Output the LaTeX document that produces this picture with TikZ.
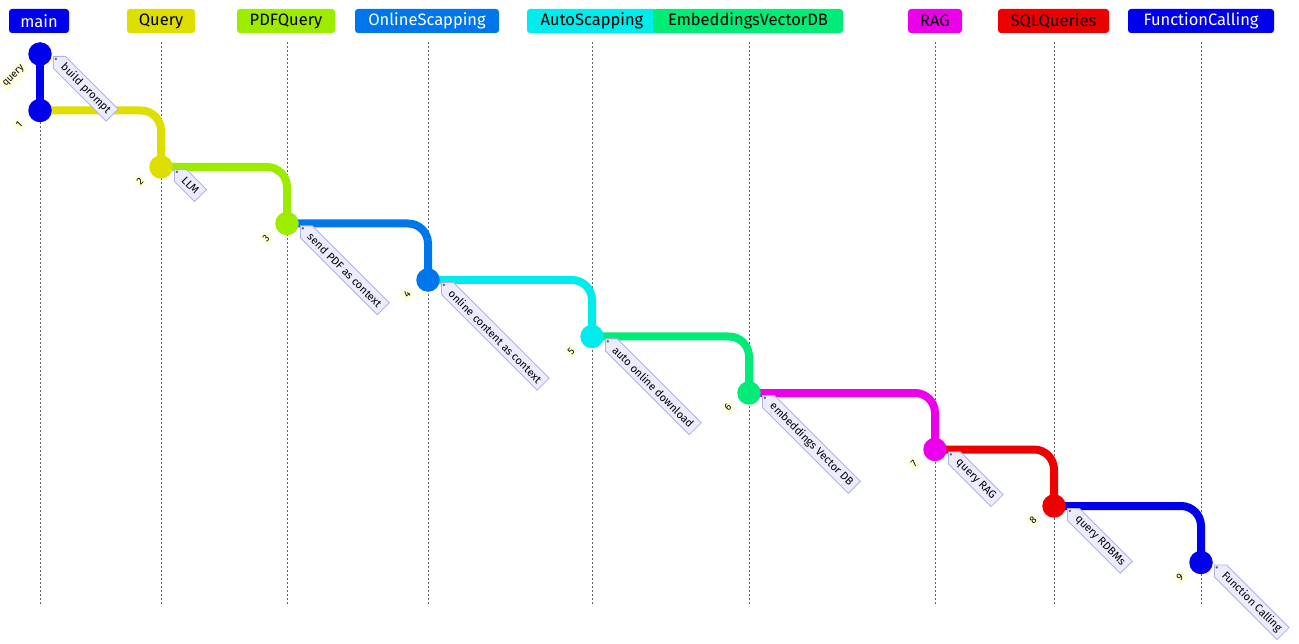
\documentclass[tikz,border=0pt]{standalone}
\usepackage{fontspec}
\setmainfont{Fira Sans}
\usetikzlibrary{shapes.symbols,calc,backgrounds}
\definecolor{g0}{RGB}{0,0,236}
\definecolor{g1}{RGB}{222,222,0}
\definecolor{g2}{RGB}{157,236,0}
\definecolor{g3}{RGB}{0,118,236}
\definecolor{g4}{RGB}{0,236,236}
\definecolor{g5}{RGB}{0,236,118}
\definecolor{g6}{RGB}{236,0,236}
\definecolor{g7}{RGB}{236,0,0}
\definecolor{idbg}{RGB}{255,255,222}
\definecolor{tagbg}{RGB}{236,236,255}
\definecolor{tagln}{RGB}{176,176,236}
\definecolor{lanec}{RGB}{100,100,100}
\begin{document}
\begin{tikzpicture}[x=1pt,y=1pt,
  lane/.style={draw=lanec, line width=1pt, dash pattern=on 2pt off 2pt},
  bline/.style={line width=8pt, rounded corners=20pt},
  commit/.style={circle, minimum size=23.5pt, inner sep=0pt},
  blabel/.style={rounded corners=3pt, minimum height=24pt, inner sep=0pt, font=\fontsize{16.5}{16.5}\selectfont},
  idlab/.style={fill=idbg, inner sep=2.5pt, font=\fontsize{10}{10}\selectfont, rotate=45},
  tagb/.style={signal, signal to=west, signal pointer angle=90, fill=tagbg, draw=tagln, line width=0.8pt, minimum height=17pt, inner xsep=4.5pt, inner ysep=0pt, font=\fontsize{11}{11}\selectfont, rotate=-45, anchor=west},
  hole/.style={fill=lanec}
]
\useasboundingbox (0,0) rectangle (1299,-644);
% branch labels
\node[blabel, fill=g0, text=white, minimum width=60pt] (bmain) at (39,-21) {main};
\node[blabel, fill=g1, text=black, minimum width=68pt] (bq) at (161,-21) {Query};
\node[blabel, fill=g2, text=black, minimum width=98pt] (bpdf) at (286,-21) {PDFQuery};
\node[blabel, fill=g3, text=white, minimum width=144pt] (bon) at (427,-21) {OnlineScapping};
\node[blabel, fill=g4, text=black, minimum width=130pt] (bauto) at (592,-21) {AutoScapping};
\node[blabel, fill=g5, text=black, minimum width=190pt] (bemb) at (748,-21) {EmbeddingsVectorDB};
\node[blabel, fill=g6, text=black, minimum width=54pt] (brag) at (935,-21) {RAG};
\node[blabel, fill=g7, text=black, minimum width=111pt] (bsql) at (1053.5,-21) {SQLQueries};
\node[blabel, fill=g0, text=white, minimum width=146pt] (bfc) at (1201,-21) {FunctionCalling};
% commits
\node[commit, fill=g0] (c0) at (40,-54) {};
\node[commit, fill=g0] (c1) at (40,-110.5) {};
\node[commit, fill=g1] (c2) at (161,-167) {};
\node[commit, fill=g2] (c3) at (287,-223.5) {};
\node[commit, fill=g3] (c4) at (428,-280) {};
\node[commit, fill=g4] (c5) at (592,-336.5) {};
\node[commit, fill=g5] (c6) at (749,-393) {};
\node[commit, fill=g6] (c7) at (935,-449.5) {};
\node[commit, fill=g7] (c8) at (1054,-506) {};
\node[commit, fill=g0] (c9) at (1201,-562.5) {};
% lanes and branch lines
\begin{scope}[on background layer]
\foreach \x/\n in {40/bmain,161/bq,287/bpdf,428/bon,592/bauto,749/bemb,935/brag,1054/bsql,1201/bfc}
  \draw[lane] (\x,-42) coordinate (top\n) -- (\x,-606) coordinate (bot\n);
\draw[bline, g0] (c0.center) -- (c1.center);
\draw[bline, g1] (c1.center) -| (c2.center);
\draw[bline, g2] (c2.center) -| (c3.center);
\draw[bline, g3] (c3.center) -| (c4.center);
\draw[bline, g4] (c4.center) -| (c5.center);
\draw[bline, g5] (c5.center) -| (c6.center);
\draw[bline, g6] (c6.center) -| (c7.center);
\draw[bline, g7] (c7.center) -| (c8.center);
\draw[bline, g0] (c8.center) -| (c9.center);
\end{scope}
% commit id labels
\node[idlab] (l0) at (14,-76) {query};
\foreach \i in {1,...,9}
  \node[idlab] (l\i) at ($(c\i)+(-21,-14.5)$) {\i};
% tags
\foreach \i/\t in {0/build prompt,2/LLM,3/send PDF as context,4/online content as context,5/auto online download,6/embeddings Vector DB,7/query RAG,8/query RDBMs,9/Function Calling}{
  \node[tagb] (t\i) at ($(c\i)+(13,-2)$) {\t};
  \fill[hole] ($(t\i.west)!4pt!(t\i.east)$) circle (1.4pt);
}
\end{tikzpicture}
\end{document}
